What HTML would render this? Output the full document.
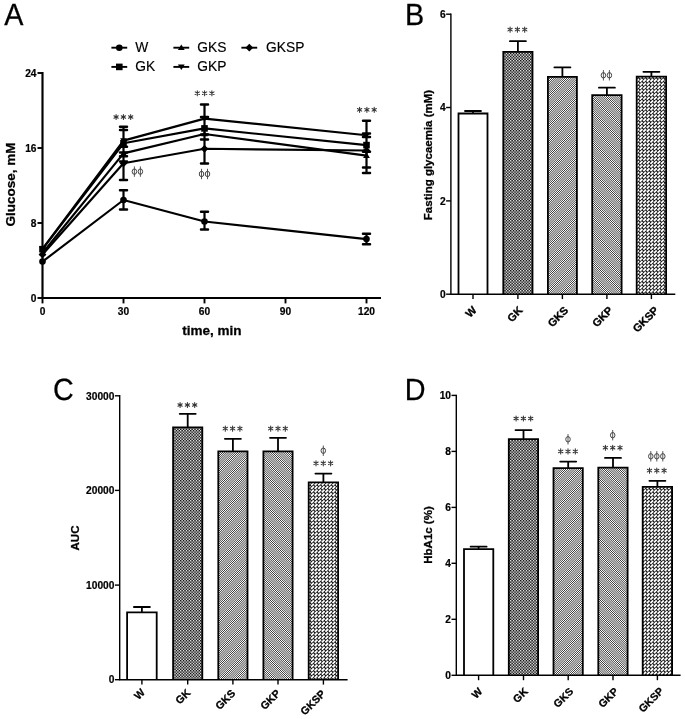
<!DOCTYPE html>
<html><head><meta charset="utf-8"><title>Figure</title>
<style>
html,body{margin:0;padding:0;background:#fff;}
body{width:685px;height:719px;overflow:hidden;font-family:"Liberation Sans",sans-serif;}
svg{display:block;filter:grayscale(1);font-family:"Liberation Sans",sans-serif;}
.b{font-weight:bold;fill:#000;stroke:#000;stroke-width:0.28px;}
.t10{font-size:10.2px;font-weight:bold;fill:#000;stroke:#000;stroke-width:0.2px;}
.sig{font-family:"Liberation Serif",serif;fill:#444;}
</style></head><body>
<svg width="685" height="719" viewBox="0 0 685 719">
<defs>
<pattern id="pGK" width="20" height="20" patternUnits="userSpaceOnUse"><rect width="20" height="20" fill="#e2e2e2"/><path d="M-0.016,-0.016h1.460v1.460h-1.460z M1.413,1.413h1.460v1.460h-1.460z M-0.016,2.841h1.460v1.460h-1.460z M1.413,4.270h1.460v1.460h-1.460z M-0.016,5.699h1.460v1.460h-1.460z M1.413,7.127h1.460v1.460h-1.460z M-0.016,8.556h1.460v1.460h-1.460z M1.413,9.984h1.460v1.460h-1.460z M-0.016,11.413h1.460v1.460h-1.460z M1.413,12.841h1.460v1.460h-1.460z M-0.016,14.270h1.460v1.460h-1.460z M1.413,15.699h1.460v1.460h-1.460z M-0.016,17.127h1.460v1.460h-1.460z M1.413,18.556h1.460v1.460h-1.460z M2.841,-0.016h1.460v1.460h-1.460z M4.270,1.413h1.460v1.460h-1.460z M2.841,2.841h1.460v1.460h-1.460z M4.270,4.270h1.460v1.460h-1.460z M2.841,5.699h1.460v1.460h-1.460z M4.270,7.127h1.460v1.460h-1.460z M2.841,8.556h1.460v1.460h-1.460z M4.270,9.984h1.460v1.460h-1.460z M2.841,11.413h1.460v1.460h-1.460z M4.270,12.841h1.460v1.460h-1.460z M2.841,14.270h1.460v1.460h-1.460z M4.270,15.699h1.460v1.460h-1.460z M2.841,17.127h1.460v1.460h-1.460z M4.270,18.556h1.460v1.460h-1.460z M5.699,-0.016h1.460v1.460h-1.460z M7.127,1.413h1.460v1.460h-1.460z M5.699,2.841h1.460v1.460h-1.460z M7.127,4.270h1.460v1.460h-1.460z M5.699,5.699h1.460v1.460h-1.460z M7.127,7.127h1.460v1.460h-1.460z M5.699,8.556h1.460v1.460h-1.460z M7.127,9.984h1.460v1.460h-1.460z M5.699,11.413h1.460v1.460h-1.460z M7.127,12.841h1.460v1.460h-1.460z M5.699,14.270h1.460v1.460h-1.460z M7.127,15.699h1.460v1.460h-1.460z M5.699,17.127h1.460v1.460h-1.460z M7.127,18.556h1.460v1.460h-1.460z M8.556,-0.016h1.460v1.460h-1.460z M9.984,1.413h1.460v1.460h-1.460z M8.556,2.841h1.460v1.460h-1.460z M9.984,4.270h1.460v1.460h-1.460z M8.556,5.699h1.460v1.460h-1.460z M9.984,7.127h1.460v1.460h-1.460z M8.556,8.556h1.460v1.460h-1.460z M9.984,9.984h1.460v1.460h-1.460z M8.556,11.413h1.460v1.460h-1.460z M9.984,12.841h1.460v1.460h-1.460z M8.556,14.270h1.460v1.460h-1.460z M9.984,15.699h1.460v1.460h-1.460z M8.556,17.127h1.460v1.460h-1.460z M9.984,18.556h1.460v1.460h-1.460z M11.413,-0.016h1.460v1.460h-1.460z M12.841,1.413h1.460v1.460h-1.460z M11.413,2.841h1.460v1.460h-1.460z M12.841,4.270h1.460v1.460h-1.460z M11.413,5.699h1.460v1.460h-1.460z M12.841,7.127h1.460v1.460h-1.460z M11.413,8.556h1.460v1.460h-1.460z M12.841,9.984h1.460v1.460h-1.460z M11.413,11.413h1.460v1.460h-1.460z M12.841,12.841h1.460v1.460h-1.460z M11.413,14.270h1.460v1.460h-1.460z M12.841,15.699h1.460v1.460h-1.460z M11.413,17.127h1.460v1.460h-1.460z M12.841,18.556h1.460v1.460h-1.460z M14.270,-0.016h1.460v1.460h-1.460z M15.699,1.413h1.460v1.460h-1.460z M14.270,2.841h1.460v1.460h-1.460z M15.699,4.270h1.460v1.460h-1.460z M14.270,5.699h1.460v1.460h-1.460z M15.699,7.127h1.460v1.460h-1.460z M14.270,8.556h1.460v1.460h-1.460z M15.699,9.984h1.460v1.460h-1.460z M14.270,11.413h1.460v1.460h-1.460z M15.699,12.841h1.460v1.460h-1.460z M14.270,14.270h1.460v1.460h-1.460z M15.699,15.699h1.460v1.460h-1.460z M14.270,17.127h1.460v1.460h-1.460z M15.699,18.556h1.460v1.460h-1.460z M17.127,-0.016h1.460v1.460h-1.460z M18.556,1.413h1.460v1.460h-1.460z M17.127,2.841h1.460v1.460h-1.460z M18.556,4.270h1.460v1.460h-1.460z M17.127,5.699h1.460v1.460h-1.460z M18.556,7.127h1.460v1.460h-1.460z M17.127,8.556h1.460v1.460h-1.460z M18.556,9.984h1.460v1.460h-1.460z M17.127,11.413h1.460v1.460h-1.460z M18.556,12.841h1.460v1.460h-1.460z M17.127,14.270h1.460v1.460h-1.460z M18.556,15.699h1.460v1.460h-1.460z M17.127,17.127h1.460v1.460h-1.460z M18.556,18.556h1.460v1.460h-1.460z" fill="#121212"/></pattern>
<pattern id="pGKS" width="15" height="15" patternUnits="userSpaceOnUse"><rect width="15" height="15" fill="#fff"/><path d="M-1.000,1.000 L1.000,-1.000 M-1.000,3.143 L3.143,-1.000 M-1.000,5.286 L5.286,-1.000 M-1.000,7.429 L7.429,-1.000 M-1.000,9.571 L9.571,-1.000 M-1.000,11.714 L11.714,-1.000 M-1.000,13.857 L13.857,-1.000 M-1.000,16.000 L16.000,-1.000 M-1.000,18.143 L18.143,-1.000 M-1.000,20.286 L20.286,-1.000 M-1.000,22.429 L22.429,-1.000 M-1.000,24.571 L24.571,-1.000 M-1.000,26.714 L26.714,-1.000 M-1.000,28.857 L28.857,-1.000 M-1.000,31.000 L31.000,-1.000 M-1.000,33.143 L33.143,-1.000" stroke="#000" stroke-width="0.79" fill="none"/></pattern>
<pattern id="pGKP" width="15" height="15" patternUnits="userSpaceOnUse"><rect width="15" height="15" fill="#fff"/><path d="M-1.000,-18.143 L16.000,-1.143 M-1.000,-16.000 L16.000,1.000 M-1.000,-13.857 L16.000,3.143 M-1.000,-11.714 L16.000,5.286 M-1.000,-9.571 L16.000,7.429 M-1.000,-7.429 L16.000,9.571 M-1.000,-5.286 L16.000,11.714 M-1.000,-3.143 L16.000,13.857 M-1.000,-1.000 L16.000,16.000 M-1.000,1.143 L16.000,18.143 M-1.000,3.286 L16.000,20.286 M-1.000,5.429 L16.000,22.429 M-1.000,7.571 L16.000,24.571 M-1.000,9.714 L16.000,26.714 M-1.000,11.857 L16.000,28.857 M-1.000,14.000 L16.000,31.000" stroke="#000" stroke-width="0.79" fill="none"/></pattern>
<pattern id="pGKSP" width="25" height="25" patternUnits="userSpaceOnUse"><rect width="25" height="25" fill="#0e0e0e"/><path d="M0.420,3.150 L3.150,0.420 M0.420,6.721 L3.150,3.991 M0.420,10.293 L3.150,7.563 M0.420,13.864 L3.150,11.134 M0.420,17.436 L3.150,14.706 M0.420,21.007 L3.150,18.277 M0.420,24.579 L3.150,21.849 M3.991,3.150 L6.721,0.420 M3.991,6.721 L6.721,3.991 M3.991,10.293 L6.721,7.563 M3.991,13.864 L6.721,11.134 M3.991,17.436 L6.721,14.706 M3.991,21.007 L6.721,18.277 M3.991,24.579 L6.721,21.849 M7.563,3.150 L10.293,0.420 M7.563,6.721 L10.293,3.991 M7.563,10.293 L10.293,7.563 M7.563,13.864 L10.293,11.134 M7.563,17.436 L10.293,14.706 M7.563,21.007 L10.293,18.277 M7.563,24.579 L10.293,21.849 M11.134,3.150 L13.864,0.420 M11.134,6.721 L13.864,3.991 M11.134,10.293 L13.864,7.563 M11.134,13.864 L13.864,11.134 M11.134,17.436 L13.864,14.706 M11.134,21.007 L13.864,18.277 M11.134,24.579 L13.864,21.849 M14.706,3.150 L17.436,0.420 M14.706,6.721 L17.436,3.991 M14.706,10.293 L17.436,7.563 M14.706,13.864 L17.436,11.134 M14.706,17.436 L17.436,14.706 M14.706,21.007 L17.436,18.277 M14.706,24.579 L17.436,21.849 M18.277,3.150 L21.007,0.420 M18.277,6.721 L21.007,3.991 M18.277,10.293 L21.007,7.563 M18.277,13.864 L21.007,11.134 M18.277,17.436 L21.007,14.706 M18.277,21.007 L21.007,18.277 M18.277,24.579 L21.007,21.849 M21.849,3.150 L24.579,0.420 M21.849,6.721 L24.579,3.991 M21.849,10.293 L24.579,7.563 M21.849,13.864 L24.579,11.134 M21.849,17.436 L24.579,14.706 M21.849,21.007 L24.579,18.277 M21.849,24.579 L24.579,21.849" stroke="#fff" stroke-width="1.85" fill="none"/></pattern>
</defs>
<rect width="685" height="719" fill="#fff"/>

<text transform="translate(4.2,25.1) scale(0.975,1.04)" font-size="29.5" fill="#000" stroke="#000" stroke-width="0.25" style="text-rendering:geometricPrecision">A</text>
<text transform="translate(404.9,25.1) scale(0.975,1.04)" font-size="29.5" fill="#000" stroke="#000" stroke-width="0.25" style="text-rendering:geometricPrecision">B</text>
<text transform="translate(52.9,400) scale(0.975,1.04)" font-size="29.5" fill="#000" stroke="#000" stroke-width="0.25" style="text-rendering:geometricPrecision">C</text>
<text transform="translate(404.7,399.9) scale(0.975,1.04)" font-size="29.5" fill="#000" stroke="#000" stroke-width="0.25" style="text-rendering:geometricPrecision">D</text>
<g stroke="#000" stroke-width="1.9" fill="none">
<path d="M42.5,72.1 V298.0 H381" stroke-width="2.15"/>
<path d="M37.5,298.0 H42.5"/>
<path d="M37.5,223.0 H42.5"/>
<path d="M37.5,148.0 H42.5"/>
<path d="M37.5,73.0 H42.5"/>
<path d="M42.5,298.0 V303.4"/>
<path d="M123.5,298.0 V303.4"/>
<path d="M204.5,298.0 V303.4"/>
<path d="M285.5,298.0 V303.4"/>
<path d="M366.5,298.0 V303.4"/>
</g>
<text class="t10" x="36.5" y="301.8" text-anchor="end">0</text>
<text class="t10" x="36.5" y="226.8" text-anchor="end">8</text>
<text class="t10" x="36.5" y="151.8" text-anchor="end">16</text>
<text class="t10" x="36.5" y="76.8" text-anchor="end">24</text>
<text class="t10" x="42.5" y="314.6" text-anchor="middle">0</text>
<text class="t10" x="123.5" y="314.6" text-anchor="middle">30</text>
<text class="t10" x="204.5" y="314.6" text-anchor="middle">60</text>
<text class="t10" x="285.5" y="314.6" text-anchor="middle">90</text>
<text class="t10" x="366.5" y="314.6" text-anchor="middle">120</text>
<text class="b" font-size="13.5" x="212" y="334.5" text-anchor="middle">time, min</text>
<text class="b" font-size="13.5" transform="translate(14.8,184.5) rotate(-90)" text-anchor="middle">Glucose, mM</text>
<g stroke="#000" stroke-width="2.15" fill="none" stroke-linejoin="round">
<path d="M42.5,261.6 L123.5,200 L204.5,221.5 L366.5,239.1"/>
<path d="M42.5,254.5 L123.5,163.3 L204.5,148.8 L366.5,150.5"/>
<path d="M42.5,253 L123.5,153.4 L204.5,134 L366.5,155.6"/>
<path d="M42.5,249.2 L123.5,143.3 L204.5,128.4 L366.5,145.1"/>
<path d="M42.5,248.8 L123.5,140.6 L204.5,118.6 L366.5,135.2"/>
</g>
<g stroke="#000" fill="none">
<path d="M123.5,126.8 V179.9" stroke-width="2.2"/>
<path d="M120.0,126.8 H127.0 M120.0,129.9 H127.0 M120.0,146.7 H127.0 M120.0,152.6 H127.0 M120.0,156.2 H127.0 M120.0,161.4 H127.0 M120.0,179.9 H127.0" stroke-width="2.5" stroke-linecap="round"/>
<path d="M123.5,190.2 V209.6" stroke-width="2.2"/>
<path d="M120.0,190.2 H127.0 M120.0,209.6 H127.0" stroke-width="2.5" stroke-linecap="round"/>
<path d="M204.5,104.4 V163.4" stroke-width="2.2"/>
<path d="M201.0,104.4 H208.0 M201.0,116.9 H208.0 M201.0,134.6 H208.0 M201.0,139.6 H208.0 M201.0,163.4 H208.0" stroke-width="2.5" stroke-linecap="round"/>
<path d="M204.5,211.7 V229.6" stroke-width="2.2"/>
<path d="M201.0,211.7 H208.0 M201.0,229.6 H208.0" stroke-width="2.5" stroke-linecap="round"/>
<path d="M366.5,120.8 V173" stroke-width="2.2"/>
<path d="M363.0,120.8 H370.0 M363.0,133.4 H370.0 M363.0,137 H370.0 M363.0,151.8 H370.0 M363.0,167.6 H370.0 M363.0,173 H370.0" stroke-width="2.5" stroke-linecap="round"/>
<path d="M366.5,233.7 V244.3" stroke-width="2.2"/>
<path d="M363.0,233.7 H370.0 M363.0,244.3 H370.0" stroke-width="2.5" stroke-linecap="round"/>
</g>
<circle cx="42.5" cy="261.6" r="3.3" fill="#000"/>
<circle cx="123.5" cy="200" r="3.3" fill="#000"/>
<circle cx="204.5" cy="221.5" r="3.3" fill="#000"/>
<circle cx="366.5" cy="239.1" r="3.3" fill="#000"/>
<path d="M42.5,250.6 L46.4,254.5 L42.5,258.40000000000003 L38.6,254.5 Z" fill="#000"/>
<path d="M123.5,159.4 L127.39999999999999,163.3 L123.5,167.20000000000002 L119.60000000000001,163.3 Z" fill="#000"/>
<path d="M204.5,144.9 L208.4,148.8 L204.5,152.70000000000002 L200.6,148.8 Z" fill="#000"/>
<path d="M366.5,146.6 L370.40000000000003,150.5 L366.5,154.4 L362.59999999999997,150.5 Z" fill="#000"/>
<path d="M42.5,249.89999999999998 L45.9,255.3 L39.1,255.3 Z" fill="#000"/>
<path d="M123.5,150.29999999999998 L126.89999999999999,155.70000000000002 L120.10000000000001,155.70000000000002 Z" fill="#000"/>
<path d="M204.5,130.89999999999998 L207.9,136.3 L201.1,136.3 Z" fill="#000"/>
<path d="M366.5,152.49999999999997 L369.90000000000003,157.9 L363.09999999999997,157.9 Z" fill="#000"/>
<rect x="39.2" y="245.89999999999998" width="6.6" height="6.6" fill="#000"/>
<rect x="120.2" y="140.0" width="6.6" height="6.6" fill="#000"/>
<rect x="201.2" y="125.10000000000001" width="6.6" height="6.6" fill="#000"/>
<rect x="363.2" y="141.79999999999998" width="6.6" height="6.6" fill="#000"/>
<path d="M42.5,251.90000000000003 L45.9,246.5 L39.1,246.5 Z" fill="#000"/>
<path d="M123.5,143.70000000000002 L126.89999999999999,138.29999999999998 L120.10000000000001,138.29999999999998 Z" fill="#000"/>
<path d="M204.5,121.69999999999999 L207.9,116.3 L201.1,116.3 Z" fill="#000"/>
<path d="M366.5,138.3 L369.90000000000003,132.89999999999998 L363.09999999999997,132.89999999999998 Z" fill="#000"/>
<path d="M111.39999999999999,47.7 H127.2" stroke="#000" stroke-width="1.9"/>
<circle cx="119.3" cy="47.7" r="3.3" fill="#000"/>
<text x="135.3" y="52.150000000000006" font-size="13.8" fill="#000" stroke="#000" stroke-width="0.15">W</text>
<path d="M111.39999999999999,66.9 H127.2" stroke="#000" stroke-width="1.9"/>
<rect x="116.0" y="63.60000000000001" width="6.6" height="6.6" fill="#000"/>
<text x="135.3" y="71.35000000000001" font-size="13.8" fill="#000" stroke="#000" stroke-width="0.15">GK</text>
<path d="M173.4,47.7 H189.20000000000002" stroke="#000" stroke-width="1.9"/>
<path d="M181.3,44.60000000000001 L184.70000000000002,50.0 L177.9,50.0 Z" fill="#000"/>
<text x="197.3" y="52.150000000000006" font-size="13.8" fill="#000" stroke="#000" stroke-width="0.15">GKS</text>
<path d="M173.4,66.9 H189.20000000000002" stroke="#000" stroke-width="1.9"/>
<path d="M181.3,70.0 L184.70000000000002,64.60000000000001 L177.9,64.60000000000001 Z" fill="#000"/>
<text x="197.3" y="71.35000000000001" font-size="13.8" fill="#000" stroke="#000" stroke-width="0.15">GKP</text>
<path d="M241.4,47.7 H257.2" stroke="#000" stroke-width="1.9"/>
<path d="M249.3,43.800000000000004 L253.20000000000002,47.7 L249.3,51.6 L245.4,47.7 Z" fill="#000"/>
<text x="266" y="52.150000000000006" font-size="13.8" fill="#000" stroke="#000" stroke-width="0.15">GKSP</text>
<path d="M116.10,114.45 V119.55 M113.95,115.70 L118.25,118.30 M113.95,118.30 L118.25,115.70 M123.40,114.45 V119.55 M121.25,115.70 L125.55,118.30 M121.25,118.30 L125.55,115.70 M130.70,114.45 V119.55 M128.55,115.70 L132.85,118.30 M128.55,118.30 L132.85,115.70" stroke="#333" stroke-width="1.05" stroke-linecap="round" fill="none"/>
<path d="M197.30,90.65 V95.75 M195.15,91.90 L199.45,94.50 M195.15,94.50 L199.45,91.90 M204.60,90.65 V95.75 M202.45,91.90 L206.75,94.50 M202.45,94.50 L206.75,91.90 M211.90,90.65 V95.75 M209.75,91.90 L214.05,94.50 M209.75,94.50 L214.05,91.90" stroke="#333" stroke-width="1.05" stroke-linecap="round" fill="none"/>
<path d="M359.60,107.25 V112.35 M357.45,108.50 L361.75,111.10 M357.45,111.10 L361.75,108.50 M366.90,107.25 V112.35 M364.75,108.50 L369.05,111.10 M364.75,111.10 L369.05,108.50 M374.20,107.25 V112.35 M372.05,108.50 L376.35,111.10 M372.05,111.10 L376.35,108.50" stroke="#333" stroke-width="1.05" stroke-linecap="round" fill="none"/>
<path d="M134.40,166.40 V176.80 M140.40,166.40 V176.80" stroke="#444" stroke-width="0.9" fill="none"/><ellipse cx="134.40" cy="171.60" rx="2.25" ry="2.7" fill="none" stroke="#444" stroke-width="1"/><ellipse cx="140.40" cy="171.60" rx="2.25" ry="2.7" fill="none" stroke="#444" stroke-width="1"/>
<path d="M201.50,168.80 V179.20 M207.50,168.80 V179.20" stroke="#444" stroke-width="0.9" fill="none"/><ellipse cx="201.50" cy="174.00" rx="2.25" ry="2.7" fill="none" stroke="#444" stroke-width="1"/><ellipse cx="207.50" cy="174.00" rx="2.25" ry="2.7" fill="none" stroke="#444" stroke-width="1"/>
<text class="t10" x="445.59999999999997" y="297.9" text-anchor="end">0</text>
<text class="t10" x="445.59999999999997" y="204.6" text-anchor="end">2</text>
<text class="t10" x="445.59999999999997" y="111.2" text-anchor="end">4</text>
<text class="t10" x="445.59999999999997" y="17.9" text-anchor="end">6</text>
<text class="b" font-size="11.5" transform="translate(432.3,155) rotate(-90)" text-anchor="middle">Fasting glycaemia (mM)</text>
<path d="M473.0,112.6 V111 M465.0,111 H481.0" stroke="#000" stroke-width="1.8" stroke-linecap="round" fill="none"/>
<rect x="458.50" y="113.50" width="29.00" height="180.70" fill="#fff"/>
<path d="M458.50,294.2 V113.50 H487.50 V294.2" fill="none" stroke="#000" stroke-width="1.8"/>
<text class="b" font-size="11" transform="translate(477.40,311.00) rotate(-45)" text-anchor="end">W</text>
<path d="M517.9,51 V41.2 M509.9,41.2 H525.9" stroke="#000" stroke-width="1.8" stroke-linecap="round" fill="none"/>
<rect x="503.30" y="51.90" width="29.20" height="242.30" fill="url(#pGK)"/>
<path d="M503.30,294.2 V51.90 H532.50 V294.2" fill="none" stroke="#000" stroke-width="1.8"/>
<text class="b" font-size="11" transform="translate(523.33,311.00) rotate(-45)" text-anchor="end">GK</text>
<path d="M562.4,76 V67.4 M554.4,67.4 H570.4" stroke="#000" stroke-width="1.8" stroke-linecap="round" fill="none"/>
<rect x="547.90" y="76.90" width="29.00" height="217.30" fill="url(#pGKS)"/>
<path d="M547.90,294.2 V76.90 H576.90 V294.2" fill="none" stroke="#000" stroke-width="1.8"/>
<text class="b" font-size="11" transform="translate(569.06,311.00) rotate(-45)" text-anchor="end">GKS</text>
<path d="M606.9,94.3 V87.7 M598.9,87.7 H614.9" stroke="#000" stroke-width="1.8" stroke-linecap="round" fill="none"/>
<rect x="592.20" y="95.20" width="29.40" height="199.00" fill="url(#pGKP)"/>
<path d="M592.20,294.2 V95.20 H621.60 V294.2" fill="none" stroke="#000" stroke-width="1.8"/>
<text class="b" font-size="11" transform="translate(613.56,311.00) rotate(-45)" text-anchor="end">GKP</text>
<path d="M651.4,75.8 V71.8 M643.4,71.8 H659.4" stroke="#000" stroke-width="1.8" stroke-linecap="round" fill="none"/>
<rect x="636.70" y="76.70" width="29.40" height="217.50" fill="url(#pGKSP)"/>
<path d="M636.70,294.2 V76.70 H666.10 V294.2" fill="none" stroke="#000" stroke-width="1.8"/>
<text class="b" font-size="11" transform="translate(659.30,311.00) rotate(-45)" text-anchor="end">GKSP</text>
<g stroke="#000" stroke-width="1.4" fill="none">
<path d="M450.9,13.5 V294.2 M450.2,294.2 H675.3"/>
<path d="M446.09999999999997,294.2 H450.9"/>
<path d="M446.09999999999997,200.9 H450.9"/>
<path d="M446.09999999999997,107.5 H450.9"/>
<path d="M446.09999999999997,14.2 H450.9"/>
<path d="M473.0,294.2 V299.09999999999997"/>
<path d="M517.9,294.2 V299.09999999999997"/>
<path d="M562.4,294.2 V299.09999999999997"/>
<path d="M606.9,294.2 V299.09999999999997"/>
<path d="M651.4,294.2 V299.09999999999997"/>
</g>
<path d="M510.10,27.05 V32.15 M507.95,28.30 L512.25,30.90 M507.95,30.90 L512.25,28.30 M517.40,27.05 V32.15 M515.25,28.30 L519.55,30.90 M515.25,30.90 L519.55,28.30 M524.70,27.05 V32.15 M522.55,28.30 L526.85,30.90 M522.55,30.90 L526.85,28.30" stroke="#333" stroke-width="1.05" stroke-linecap="round" fill="none"/>
<path d="M603.40,70.10 V80.50 M609.40,70.10 V80.50" stroke="#444" stroke-width="0.9" fill="none"/><ellipse cx="603.40" cy="75.30" rx="2.25" ry="2.7" fill="none" stroke="#444" stroke-width="1"/><ellipse cx="609.40" cy="75.30" rx="2.25" ry="2.7" fill="none" stroke="#444" stroke-width="1"/>
<text class="t10" x="114.4" y="683.4" text-anchor="end">0</text>
<text class="t10" x="114.4" y="588.8" text-anchor="end">10000</text>
<text class="t10" x="114.4" y="494.1" text-anchor="end">20000</text>
<text class="t10" x="114.4" y="399.5" text-anchor="end">30000</text>
<text class="b" font-size="11.5" transform="translate(78.5,538) rotate(-90)" text-anchor="middle">AUC</text>
<path d="M141.9,611.5 V607 M133.9,607 H149.9" stroke="#000" stroke-width="1.8" stroke-linecap="round" fill="none"/>
<rect x="127.10" y="612.40" width="29.60" height="67.30" fill="#fff"/>
<path d="M127.10,679.7 V612.40 H156.70 V679.7" fill="none" stroke="#000" stroke-width="1.8"/>
<text class="b" font-size="10.65" transform="translate(145.60,693.10) rotate(-45)" text-anchor="end">W</text>
<path d="M187.7,426.5 V413.8 M179.7,413.8 H195.7" stroke="#000" stroke-width="1.8" stroke-linecap="round" fill="none"/>
<rect x="173.10" y="427.40" width="29.20" height="252.30" fill="url(#pGK)"/>
<path d="M173.10,679.7 V427.40 H202.30 V679.7" fill="none" stroke="#000" stroke-width="1.8"/>
<text class="b" font-size="10.65" transform="translate(191.11,693.51) rotate(-45)" text-anchor="end">GK</text>
<path d="M232.9,450.5 V438.8 M224.9,438.8 H240.9" stroke="#000" stroke-width="1.8" stroke-linecap="round" fill="none"/>
<rect x="218.30" y="451.40" width="29.20" height="228.30" fill="url(#pGKS)"/>
<path d="M218.30,679.7 V451.40 H247.50 V679.7" fill="none" stroke="#000" stroke-width="1.8"/>
<text class="b" font-size="10.65" transform="translate(235.95,694.01) rotate(-45)" text-anchor="end">GKS</text>
<path d="M278.0,450.5 V437.8 M270.0,437.8 H286.0" stroke="#000" stroke-width="1.8" stroke-linecap="round" fill="none"/>
<rect x="263.40" y="451.40" width="29.20" height="228.30" fill="url(#pGKP)"/>
<path d="M263.40,679.7 V451.40 H292.60 V679.7" fill="none" stroke="#000" stroke-width="1.8"/>
<text class="b" font-size="10.65" transform="translate(281.05,694.01) rotate(-45)" text-anchor="end">GKP</text>
<path d="M323.4,481.4 V473.6 M315.4,473.6 H331.4" stroke="#000" stroke-width="1.8" stroke-linecap="round" fill="none"/>
<rect x="308.70" y="482.30" width="29.40" height="197.40" fill="url(#pGKSP)"/>
<path d="M308.70,679.7 V482.30 H338.10 V679.7" fill="none" stroke="#000" stroke-width="1.8"/>
<text class="b" font-size="10.65" transform="translate(326.10,694.50) rotate(-45)" text-anchor="end">GKSP</text>
<g stroke="#000" stroke-width="1.4" fill="none">
<path d="M119.7,395.1 V679.7 M119.0,679.7 H347.6"/>
<path d="M114.9,679.7 H119.7"/>
<path d="M114.9,585.1 H119.7"/>
<path d="M114.9,490.4 H119.7"/>
<path d="M114.9,395.8 H119.7"/>
<path d="M141.9,679.7 V684.6"/>
<path d="M187.7,679.7 V684.6"/>
<path d="M232.9,679.7 V684.6"/>
<path d="M278.0,679.7 V684.6"/>
<path d="M323.4,679.7 V684.6"/>
</g>
<path d="M180.10,402.45 V407.55 M177.95,403.70 L182.25,406.30 M177.95,406.30 L182.25,403.70 M187.40,402.45 V407.55 M185.25,403.70 L189.55,406.30 M185.25,406.30 L189.55,403.70 M194.70,402.45 V407.55 M192.55,403.70 L196.85,406.30 M192.55,406.30 L196.85,403.70" stroke="#333" stroke-width="1.05" stroke-linecap="round" fill="none"/>
<path d="M225.30,426.05 V431.15 M223.15,427.30 L227.45,429.90 M223.15,429.90 L227.45,427.30 M232.60,426.05 V431.15 M230.45,427.30 L234.75,429.90 M230.45,429.90 L234.75,427.30 M239.90,426.05 V431.15 M237.75,427.30 L242.05,429.90 M237.75,429.90 L242.05,427.30" stroke="#333" stroke-width="1.05" stroke-linecap="round" fill="none"/>
<path d="M270.70,426.05 V431.15 M268.55,427.30 L272.85,429.90 M268.55,429.90 L272.85,427.30 M278.00,426.05 V431.15 M275.85,427.30 L280.15,429.90 M275.85,429.90 L280.15,427.30 M285.30,426.05 V431.15 M283.15,427.30 L287.45,429.90 M283.15,429.90 L287.45,427.30" stroke="#333" stroke-width="1.05" stroke-linecap="round" fill="none"/>
<path d="M316.00,460.75 V465.85 M313.85,462.00 L318.15,464.60 M313.85,464.60 L318.15,462.00 M323.30,460.75 V465.85 M321.15,462.00 L325.45,464.60 M321.15,464.60 L325.45,462.00 M330.60,460.75 V465.85 M328.45,462.00 L332.75,464.60 M328.45,464.60 L332.75,462.00" stroke="#333" stroke-width="1.05" stroke-linecap="round" fill="none"/>
<path d="M323.30,445.50 V455.90" stroke="#444" stroke-width="0.9" fill="none"/><ellipse cx="323.30" cy="450.70" rx="2.25" ry="2.7" fill="none" stroke="#444" stroke-width="1"/>
<text class="t10" x="451.0" y="679.0" text-anchor="end">0</text>
<text class="t10" x="451.0" y="623.0" text-anchor="end">2</text>
<text class="t10" x="451.0" y="567.0" text-anchor="end">4</text>
<text class="t10" x="451.0" y="511.1" text-anchor="end">6</text>
<text class="t10" x="451.0" y="455.1" text-anchor="end">8</text>
<text class="t10" x="451.0" y="399.1" text-anchor="end">10</text>
<text class="b" font-size="11.5" transform="translate(431.5,535) rotate(-90)" text-anchor="middle">HbA1c (%)</text>
<path d="M478.6,548.2 V546.7 M470.6,546.7 H486.6" stroke="#000" stroke-width="1.8" stroke-linecap="round" fill="none"/>
<rect x="464.00" y="549.10" width="29.30" height="126.20" fill="#fff"/>
<path d="M464.00,675.3 V549.10 H493.30 V675.3" fill="none" stroke="#000" stroke-width="1.8"/>
<text class="b" font-size="10.6" transform="translate(483.05,692.30) rotate(-45)" text-anchor="end">W</text>
<path d="M523.5,438.2 V430.1 M515.5,430.1 H531.5" stroke="#000" stroke-width="1.8" stroke-linecap="round" fill="none"/>
<rect x="508.80" y="439.10" width="29.30" height="236.20" fill="url(#pGK)"/>
<path d="M508.80,675.3 V439.10 H538.10 V675.3" fill="none" stroke="#000" stroke-width="1.8"/>
<text class="b" font-size="10.6" transform="translate(528.56,692.15) rotate(-45)" text-anchor="end">GK</text>
<path d="M568.2,467.2 V461.6 M560.2,461.6 H576.2" stroke="#000" stroke-width="1.8" stroke-linecap="round" fill="none"/>
<rect x="553.50" y="468.10" width="29.30" height="207.20" fill="url(#pGKS)"/>
<path d="M553.50,675.3 V468.10 H582.80 V675.3" fill="none" stroke="#000" stroke-width="1.8"/>
<text class="b" font-size="10.6" transform="translate(574.10,691.98) rotate(-45)" text-anchor="end">GKS</text>
<path d="M613.0,466.8 V457.9 M605.0,457.9 H621.0" stroke="#000" stroke-width="1.8" stroke-linecap="round" fill="none"/>
<rect x="598.30" y="467.70" width="29.30" height="207.60" fill="url(#pGKP)"/>
<path d="M598.30,675.3 V467.70 H627.60 V675.3" fill="none" stroke="#000" stroke-width="1.8"/>
<text class="b" font-size="10.6" transform="translate(618.90,691.98) rotate(-45)" text-anchor="end">GKP</text>
<path d="M657.4,486 V480.8 M649.4,480.8 H665.4" stroke="#000" stroke-width="1.8" stroke-linecap="round" fill="none"/>
<rect x="642.70" y="486.90" width="29.40" height="188.40" fill="url(#pGKSP)"/>
<path d="M642.70,675.3 V486.90 H672.10 V675.3" fill="none" stroke="#000" stroke-width="1.8"/>
<text class="b" font-size="10.6" transform="translate(664.20,691.80) rotate(-45)" text-anchor="end">GKSP</text>
<g stroke="#000" stroke-width="1.4" fill="none">
<path d="M456.3,394.7 V675.3 M455.6,675.3 H680.6"/>
<path d="M451.5,675.3 H456.3"/>
<path d="M451.5,619.3 H456.3"/>
<path d="M451.5,563.3 H456.3"/>
<path d="M451.5,507.4 H456.3"/>
<path d="M451.5,451.4 H456.3"/>
<path d="M451.5,395.4 H456.3"/>
<path d="M478.6,675.3 V680.1999999999999"/>
<path d="M523.5,675.3 V680.1999999999999"/>
<path d="M568.2,675.3 V680.1999999999999"/>
<path d="M613.0,675.3 V680.1999999999999"/>
<path d="M657.4,675.3 V680.1999999999999"/>
</g>
<path d="M516.10,415.95 V421.05 M513.95,417.20 L518.25,419.80 M513.95,419.80 L518.25,417.20 M523.40,415.95 V421.05 M521.25,417.20 L525.55,419.80 M521.25,419.80 L525.55,417.20 M530.70,415.95 V421.05 M528.55,417.20 L532.85,419.80 M528.55,419.80 L532.85,417.20" stroke="#333" stroke-width="1.05" stroke-linecap="round" fill="none"/>
<path d="M560.70,448.85 V453.95 M558.55,450.10 L562.85,452.70 M558.55,452.70 L562.85,450.10 M568.00,448.85 V453.95 M565.85,450.10 L570.15,452.70 M565.85,452.70 L570.15,450.10 M575.30,448.85 V453.95 M573.15,450.10 L577.45,452.70 M573.15,452.70 L577.45,450.10" stroke="#333" stroke-width="1.05" stroke-linecap="round" fill="none"/>
<path d="M605.40,445.15 V450.25 M603.25,446.40 L607.55,449.00 M603.25,449.00 L607.55,446.40 M612.70,445.15 V450.25 M610.55,446.40 L614.85,449.00 M610.55,449.00 L614.85,446.40 M620.00,445.15 V450.25 M617.85,446.40 L622.15,449.00 M617.85,449.00 L622.15,446.40" stroke="#333" stroke-width="1.05" stroke-linecap="round" fill="none"/>
<path d="M649.50,468.05 V473.15 M647.35,469.30 L651.65,471.90 M647.35,471.90 L651.65,469.30 M656.80,468.05 V473.15 M654.65,469.30 L658.95,471.90 M654.65,471.90 L658.95,469.30 M664.10,468.05 V473.15 M661.95,469.30 L666.25,471.90 M661.95,471.90 L666.25,469.30" stroke="#333" stroke-width="1.05" stroke-linecap="round" fill="none"/>
<path d="M568.00,434.10 V444.50" stroke="#444" stroke-width="0.9" fill="none"/><ellipse cx="568.00" cy="439.30" rx="2.25" ry="2.7" fill="none" stroke="#444" stroke-width="1"/>
<path d="M612.70,430.00 V440.40" stroke="#444" stroke-width="0.9" fill="none"/><ellipse cx="612.70" cy="435.20" rx="2.25" ry="2.7" fill="none" stroke="#444" stroke-width="1"/>
<path d="M650.80,451.10 V461.50 M656.80,451.10 V461.50 M662.80,451.10 V461.50" stroke="#444" stroke-width="0.9" fill="none"/><ellipse cx="650.80" cy="456.30" rx="2.25" ry="2.7" fill="none" stroke="#444" stroke-width="1"/><ellipse cx="656.80" cy="456.30" rx="2.25" ry="2.7" fill="none" stroke="#444" stroke-width="1"/><ellipse cx="662.80" cy="456.30" rx="2.25" ry="2.7" fill="none" stroke="#444" stroke-width="1"/>
</svg></body></html>
